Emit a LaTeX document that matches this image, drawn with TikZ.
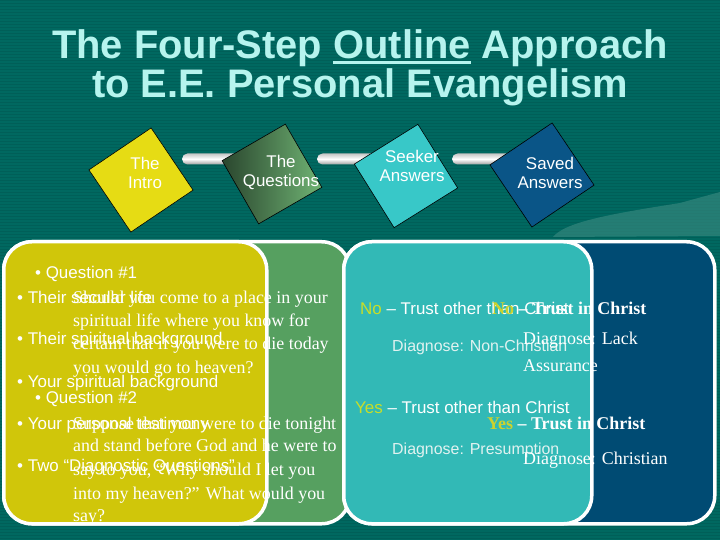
\documentclass[tikz,border=0pt]{standalone}
\usepackage{fontspec}
\setmainfont{Liberation Serif}
\setsansfont{Liberation Sans}
\definecolor{bg}{RGB}{0,104,96}
\definecolor{bgstripe}{RGB}{0,95,88}
\definecolor{titlecol}{RGB}{182,244,238}
\definecolor{dyellow}{RGB}{230,220,20}
\definecolor{dgreenA}{RGB}{42,70,46}
\definecolor{dgreenB}{RGB}{112,180,116}
\definecolor{dcyan}{RGB}{56,200,200}
\definecolor{dblue}{RGB}{10,85,135}
\definecolor{pyellow}{RGB}{208,198,10}
\definecolor{pgreen}{RGB}{86,160,96}
\definecolor{pteal}{RGB}{50,185,182}
\definecolor{pblue}{RGB}{0,75,115}
\definecolor{noyel}{RGB}{200,222,40}
\definecolor{yes2}{RGB}{205,210,45}
\definecolor{dgcol}{RGB}{225,242,240}
\definecolor{swooshcol}{RGB}{60,140,130}
\newcommand\myul[1]{\setbox0\hbox{#1}\rlap{\rule[-5pt]{\wd0}{2.6pt}}\box0}
\begin{document}
\begin{tikzpicture}[x=1bp,y=-1bp,
  title/.style={anchor=base, inner sep=0pt, text=titlecol, font=\sffamily\bfseries\fontsize{40}{40}\selectfont},
  bar/.style={top color=gray!45, bottom color=gray!75, middle color=white, rounded corners=5.5bp},
  diam/.style={draw=black, line width=0.6bp, minimum size=75bp, inner sep=0pt},
  dtext/.style={text=white, font=\sffamily\fontsize{17}{19}\selectfont, align=center, inner sep=0pt},
  panel/.style={draw=white, line width=3.5bp, rounded corners=28bp, anchor=north west, inner sep=0pt},
  lt/.style={anchor=base west, inner sep=0pt, text=white, font=\sffamily\fontsize{17}{19}\selectfont},
  dg/.style={anchor=base west, inner sep=0pt, text=dgcol, font=\sffamily\fontsize{16}{18}\selectfont},
  st/.style={anchor=base west, inner sep=0pt, text=white, font=\rmfamily\fontsize{18}{22}\selectfont},
  sb/.style={anchor=base west, inner sep=0pt, text=white, font=\rmfamily\bfseries\fontsize{18}{22}\selectfont},
]
\useasboundingbox (0,0) rectangle (720,540);
\fill[bg] (0,0) rectangle (720,540);
\foreach \yy in {1,4,...,540} \draw[bgstripe, line width=1bp] (0,\yy) -- (720,\yy);
% swoosh
\fill[swooshcol, opacity=0.6] (553,237) .. controls (565,222) and (610,214) .. (680,203) -- (720,192) -- (720,236) -- cycle;

% title
\node[title] (t1) at (360,59) {The Four-Step \myul{Outline}\ Approach};
\node[title] (t2) at (360,98) {to E.E. Personal Evangelism};

% bars
\shade[bar] (182,153.5) rectangle (255,164.5);
\shade[bar] (317,153.5) rectangle (385,164.5);
\shade[bar] (452,153.5) rectangle (520,164.5);

% diamonds
\node[diam, fill=dyellow, rotate=34] (d1) at (141,180) {};
\node[diam, left color=dgreenA, right color=dgreenB, rotate=30, minimum size=73bp] (d2) at (272,174) {};
\node[diam, fill=dcyan, rotate=32] (d3) at (406,176) {};
\node[diam, fill=dblue, rotate=34] (d4) at (542,175) {};
\node[dtext] (l1) at (145,172.5) {The\\Intro};
\node[dtext] (l2) at (281,172.5) {The\\Questions};
\node[dtext] (l3) at (412,166) {Seeker\\Answers};
\node[dtext] (l4) at (550,172.5) {Saved\\Answers};

% panels
\node[panel, fill=pgreen, minimum width=346bp, minimum height=282bp] (p2) at (2,240) {};
\node[panel, fill=pyellow, minimum width=263bp, minimum height=282bp] (p1) at (2,240) {};
\node[panel, fill=pblue, minimum width=371bp, minimum height=282bp] (p4) at (342,240) {};
\node[panel, fill=pteal, minimum width=248bp, minimum height=282bp] (p3) at (342,240) {};

% left panel sans text
\node[lt] (a1) at (35,279) {• Question \#1};
\node[lt] (a2) at (17,303) {• Their secular life};
\node[lt] (a3) at (17,344) {• Their spiritual background};
\node[lt] (a4) at (17,387) {• Your spiritual background};
\node[lt] (a5) at (35,403) {• Question \#2};
\node[lt] (a6) at (17,429) {• Your personal testimony};
\node[lt] (a7) at (17,471) {• Two “Diagnostic Questions”};

% left panel serif text
\node[st] (q1) at (73,303) {Should you come to a place in your};
\node[st] (q2) at (73,326) {spiritual life where you know for};
\node[st] (q3) at (73,349) {certain that if you were to die today};
\node[st] (q4) at (73,373) {you would go to heaven?};
\node[st] (r1) at (73,429) {Suppose that you were to die tonight};
\node[st] (r2) at (73,451) {and stand before God and he were to};
\node[st] (r3) at (73,475) {say to you, “Why should I let you};
\node[st] (r4) at (73,499) {into my heaven?” What would you};
\node[st] (r5) at (73,521) {say?};

% teal panel text
\node[lt] (b1) at (360,314) {\textcolor{noyel}{No} – Trust other than Christ};
\node[dg] (b2) at (392,351) {Diagnose: Non-Christian};
\node[lt] (b3) at (355,413) {\textcolor{noyel}{Yes} – Trust other than Christ};
\node[dg] (b4) at (392,454) {Diagnose: Presumption};

% blue panel text
\node[sb] (c1) at (492,314) {\textcolor{yes2}{No} – Trust in Christ};
\node[st] (c2) at (523,344) {Diagnose: Lack};
\node[st] (c3) at (523,371) {Assurance};
\node[sb] (c4) at (487,429) {\textcolor{yes2}{Yes} – Trust in Christ};
\node[st] (c5) at (523,464) {Diagnose: Christian};
\end{tikzpicture}
\end{document}
